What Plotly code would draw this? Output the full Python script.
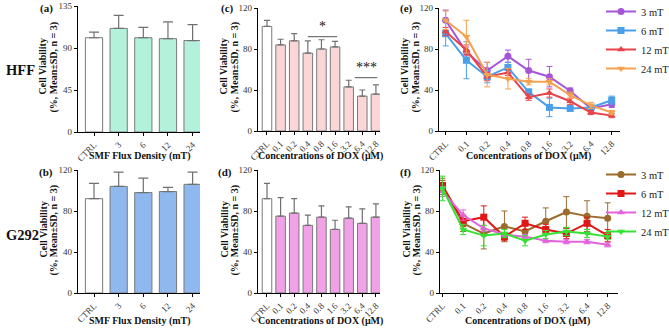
import plotly.graph_objects as go

W, H = 669, 330
SERIF = "Liberation Serif, Times New Roman, serif"

# ---------------- data ----------------
smf_cats = ["CTRL", "3", "6", "12", "24"]
dox_cats = ["CTRL", "0.1", "0.2", "0.4", "0.8", "1.6", "3.2", "6.4", "12.8"]

a_vals = [101, 111, 101, 100, 98]
a_err = [6, 14, 11, 18, 17]
b_vals = [92, 104, 98, 99, 106]
b_err = [15, 14, 14, 4, 12]

c_vals = [102, 84, 88, 76, 80, 82, 43, 34, 36]
c_err = [6, 5.5, 7, 12, 9, 5.5, 6.5, 6, 9]
d_vals = [92, 75, 78, 66, 74, 62, 73, 68, 74]
d_err = [15, 18, 14, 10, 11, 9, 11, 14, 13]

mt_names = ["3 mT", "6 mT", "12 mT", "24 mT"]
e_vals = [
    [108, 77, 59, 73, 59, 53, 39, 22, 26],
    [95, 69, 53, 62, 38, 23, 22, 23, 30],
    [97, 79, 53, 57, 33, 37, 29, 18, 15],
    [108, 92, 55, 51, 48, 48, 35, 25, 18],
]
e_err = [
    [10, 5, 8, 6, 11, 10, 3, 3, 3],
    [12, 18, 6, 5, 3, 9, 2, 2, 4],
    [4, 5, 4, 3, 3, 4, 3, 2, 2],
    [9, 16, 12, 10, 3, 3, 3, 3, 2],
]
f_vals = [
    [104, 68, 58, 65, 60, 70, 79, 75, 73],
    [105, 70, 74, 55, 68, 62, 58, 68, 56],
    [99, 76, 63, 57, 55, 51, 50, 50, 47],
    [102, 62, 56, 58, 51, 57, 60, 58, 55],
]
f_err = [
    [8, 8, 15, 15, 8, 13, 15, 15, 15],
    [5, 5, 11, 4, 6, 5, 5, 6, 6],
    [5, 5, 3, 2, 2, 2, 2, 2, 2],
    [12, 5, 10, 4, 5, 4, 4, 4, 3],
]

# significance marks in panel (c): (start index, end index, y level, text)
c_sig = [(3, 5.15, 92, "*"), (6.45, 8.1, 52, "***")]

# ---------------- styles ----------------
bar_colors = {"a": "#b3f1db", "b": "#8fb8ee", "c": "#fbd6d6", "d": "#f1a2e6"}
e_colors = ["#a655d8", "#4a9fe9", "#e8434a", "#f5a24f"]
f_colors = ["#9a6b2c", "#e21616", "#e463dd", "#33e233"]
symbols = ["circle", "square", "triangle-up", "triangle-down"]

def px_x(x0, x1):
    return [x0 / W, x1 / W]

def px_y(top, bottom):
    return [1 - bottom / H, 1 - top / H]

dom = {
    "a": (px_x(78, 200), px_y(6, 132)),
    "c": (px_x(258, 380), px_y(8, 131)),
    "e": (px_x(439, 620), px_y(8, 131)),
    "b": (px_x(78, 200), px_y(170, 293)),
    "d": (px_x(258, 380), px_y(170, 293)),
    "f": (px_x(440, 618), px_y(170, 293)),
}
axis_ids = {"a": "", "c": "2", "e": "3", "b": "4", "d": "5", "f": "6"}

fig = go.Figure()

axis_common = dict(
    showline=True, linecolor="black", linewidth=1.3, ticks="outside",
    ticklen=3, tickwidth=1.2, tickcolor="black", showgrid=False, zeroline=False,
    tickfont=dict(family=SERIF, size=9, color="#333"), mirror=False,
)

def add_bars(key, cats, vals, err, color, cap_w):
    aid = axis_ids[key]
    colors = ["white"] + [color] * (len(cats) - 1)
    fig.add_trace(go.Bar(
        x=cats, y=vals, xaxis="x" + aid, yaxis="y" + aid,
        marker=dict(color=colors, line=dict(color="#7a7a7a", width=1)),
        error_y=dict(type="data", array=err, arrayminus=[0] * len(err), symmetric=False,
                     color="#707070", thickness=1.2, width=cap_w),
        showlegend=False,
    ))

def add_lines(key, cats, vals_list, err_list, colors, legend_name):
    aid = axis_ids[key]
    for name, vals, err, col, sym in zip(mt_names, vals_list, err_list, colors, symbols):
        fig.add_trace(go.Scatter(
            x=cats, y=vals, xaxis="x" + aid, yaxis="y" + aid, name=name,
            mode="lines+markers", line=dict(color=col, width=2),
            marker=dict(color=col, size=7, symbol=sym),
            error_y=dict(type="data", array=err, color=col, thickness=1, width=3),
            legend=legend_name,
        ))

add_bars("a", smf_cats, a_vals, a_err, bar_colors["a"], 5)
add_bars("b", smf_cats, b_vals, b_err, bar_colors["b"], 5)
add_bars("c", dox_cats, c_vals, c_err, bar_colors["c"], 3)
add_bars("d", dox_cats, d_vals, d_err, bar_colors["d"], 3)
add_lines("e", dox_cats, e_vals, e_err, e_colors, "legend")
add_lines("f", dox_cats, f_vals, f_err, f_colors, "legend2")

layout = dict(
    width=W, height=H, margin=dict(l=0, r=0, t=0, b=0, autoexpand=False),
    paper_bgcolor="white", plot_bgcolor="white", bargap=0.3,
    font=dict(family=SERIF, color="black"),
)

xranges = {"a": [-0.65, 4.3], "b": [-0.65, 4.3], "c": [-0.66, 8.3], "d": [-0.66, 8.3],
           "e": [-0.32, 8.4], "f": [-0.12, 8.5]}
yranges = {"a": [0, 135], "b": [0, 120], "c": [0, 120], "d": [0, 120], "e": [0, 120], "f": [0, 120]}
ytickv = {"a": [0, 45, 90, 135]}

for key, aid in axis_ids.items():
    xd, yd = dom[key]
    xa = dict(axis_common, domain=xd, anchor="y" + aid, range=xranges[key], tickangle=-45,
              type="category", tickfont=dict(family=SERIF, size=9, color="#333"))
    ya = dict(axis_common, domain=yd, anchor="x" + aid, range=yranges[key],
              tickvals=ytickv.get(key, [0, 40, 80, 120]))
    layout["xaxis" + aid] = xa
    layout["yaxis" + aid] = ya

leg_common = dict(xanchor="left", yanchor="top",
                  font=dict(family=SERIF, size=10.5, color="#222"),
                  bgcolor="rgba(0,0,0,0)", itemwidth=30, tracegroupgap=0)
layout["legend"] = dict(leg_common, x=601 / W, y=1 + 3 / H)
layout["legend2"] = dict(leg_common, x=601 / W, y=1 - 160 / H)

fig.update_layout(**layout)

ann = []
def ptext(x, y, text, size=10, bold=True, angle=0, xanchor="center"):
    t = f"<b>{text}</b>" if bold else text
    ann.append(dict(x=x / W, y=1 - y / H, xref="paper", yref="paper", text=t,
                    showarrow=False, textangle=angle, xanchor=xanchor, yanchor="middle",
                    font=dict(family=SERIF, size=size, color="#111")))

# panel letters
for lab, x, y in [("(a)", 46, 8), ("(c)", 227, 8), ("(e)", 406, 8),
                  ("(b)", 46, 172), ("(d)", 225, 172), ("(f)", 405, 172)]:
    ptext(x, y, lab, size=11)

# row labels
ptext(20, 70, "HFF", size=14.5)
ptext(22, 235, "G292", size=14.5)

# y axis titles (two lines)
for xc, yc in [(48, 67), (229, 67), (410, 67), (48, 230), (229, 230), (411, 230)]:
    ptext(xc - 5.5, yc, "Cell Viability", size=10, angle=-90)
    ptext(xc + 5.5, yc, "(%, Mean±SD, n = 3)", size=10, angle=-90)

# x axis titles
ptext(140, 156, "SMF Flux Density (mT)", size=10)
ptext(320, 156, "Concentrations of DOX (μM)", size=10)
ptext(528, 156, "Concentrations of DOX (μM)", size=10)
ptext(140, 321, "SMF Flux Density (mT)", size=10)
ptext(320, 321, "Concentrations of DOX (μM)", size=10)
ptext(527, 321, "Concentrations of DOX (μM)", size=10)

shapes = []
for x0, x1, yv, txt in c_sig:
    shapes.append(dict(type="line", xref="x2", yref="y2", x0=x0, x1=x1, y0=yv, y1=yv,
                       line=dict(color="#555", width=1)))
    ann.append(dict(x=(x0 + x1) / 2, y=yv + 1, xref="x2", yref="y2", text=txt,
                    showarrow=False, yanchor="bottom",
                    font=dict(family=SERIF, size=14, color="#111")))

fig.update_layout(annotations=ann, shapes=shapes)
fig.write_html("out.html", config={"displayModeBar": False},
               post_script="document.body.style.margin='0';document.body.style.overflow='hidden';")
